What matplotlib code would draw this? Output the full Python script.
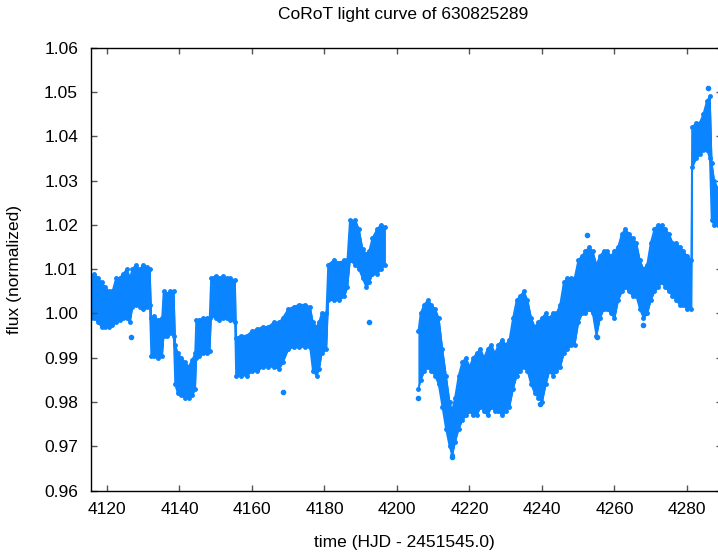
import matplotlib
matplotlib.use("Agg")
import matplotlib.pyplot as plt

plt.rcParams['font.family'] = ['Liberation Sans', 'DejaVu Sans']

t1 = [4115.5, 4116.5, 4117.5, 4118.5, 4119.5, 4120.5, 4121.5, 4122.5, 4123.5, 4124.5,
      4125.5, 4126.3, 4127.0, 4128.0, 4129.0, 4130.0, 4131.0, 4131.8, 4132.2, 4133.0,
      4134.0, 4135.2, 4135.6, 4136.5, 4137.5, 4138.4, 4138.8, 4139.5, 4140.5, 4141.5,
      4142.5, 4143.5, 4144.3, 4144.6, 4145.5, 4146.5, 4147.5, 4148.3, 4148.7, 4150.0,
      4151.0, 4152.0, 4153.0, 4154.0, 4155.3, 4155.6, 4157.0, 4158.5, 4160.0, 4161.5,
      4163.0, 4164.5, 4166.0, 4167.5, 4168.5, 4170.0, 4171.5, 4173.0, 4174.5, 4176.0,
      4176.8, 4177.8, 4178.5, 4179.2, 4180.5, 4181.0, 4182.5, 4184.0, 4185.5, 4186.3,
      4187.0, 4188.5, 4189.5, 4190.5, 4191.5, 4192.3, 4193.2, 4194.5, 4195.5, 4196.7]
lo1 = [0.999, 0.999, 0.998, 0.997, 0.997, 0.997, 0.9975, 0.998, 0.9985, 0.999,
       0.999, 0.998, 1.0015, 1.002, 1.0015, 1.001, 1.0015, 1.002, 0.9905, 0.9905,
       0.990, 0.9905, 0.995, 0.995, 0.9955, 0.995, 0.984, 0.982, 0.9815, 0.981,
       0.981, 0.9815, 0.983, 0.990, 0.9905, 0.991, 0.991, 0.9915, 0.9995, 0.999,
       0.9985, 0.999, 0.999, 0.9985, 0.998, 0.986, 0.986, 0.986, 0.987, 0.987,
       0.988, 0.988, 0.988, 0.9875, 0.989, 0.992, 0.9925, 0.9925, 0.9925, 0.9925,
       0.987, 0.986, 0.9875, 0.991, 0.992, 1.003, 1.003, 1.003, 1.004, 1.006,
       1.012, 1.011, 1.010, 1.008, 1.006, 1.007, 1.009, 1.009, 1.010, 1.011]
hi1 = [1.008, 1.009, 1.008, 1.007, 1.006, 1.005, 1.005, 1.008, 1.008, 1.009,
       1.010, 1.008, 1.010, 1.011, 1.010, 1.011, 1.0105, 1.010, 0.999, 0.9995,
       0.9985, 0.999, 1.005, 1.0045, 1.005, 1.005, 0.993, 0.991, 0.990, 0.989,
       0.988, 0.9895, 0.991, 0.9985, 0.9985, 0.999, 0.999, 0.999, 1.008, 1.0085,
       1.008, 1.0085, 1.008, 1.008, 1.0075, 0.9945, 0.995, 0.995, 0.996, 0.9965,
       0.997, 0.997, 0.998, 0.998, 0.999, 1.001, 1.0015, 1.002, 1.002, 1.0015,
       0.998, 0.997, 0.998, 1.000, 1.000, 1.011, 1.012, 1.0115, 1.012, 1.012,
       1.021, 1.021, 1.019, 1.0145, 1.0135, 1.014, 1.017, 1.019, 1.020, 1.0195]

t2 = [4205.9, 4206.5, 4207.5, 4208.5, 4209.5, 4210.5, 4211.5, 4212.5, 4213.5, 4214.5,
      4215.2, 4216.0, 4217.0, 4218.0, 4219.0, 4220.0, 4221.0, 4222.0, 4223.0, 4224.0,
      4225.0, 4226.0, 4227.0, 4228.0, 4229.0, 4230.0, 4231.0, 4232.0, 4233.0, 4234.0,
      4235.0, 4236.0, 4237.0, 4238.0, 4239.0, 4240.0, 4241.0, 4242.0, 4243.0, 4244.0,
      4245.0, 4246.0, 4247.0, 4248.0, 4249.0, 4250.0, 4251.0, 4252.0, 4253.0, 4254.0,
      4255.0, 4256.0, 4257.0, 4258.0, 4259.0, 4260.0, 4261.0, 4262.0, 4263.0, 4264.0,
      4265.0, 4266.0, 4267.0, 4268.0, 4269.0, 4270.0, 4271.0, 4272.0, 4273.0, 4274.0,
      4275.0, 4276.0, 4277.0, 4278.0, 4279.0, 4280.0, 4281.2, 4281.4, 4282.5, 4283.5,
      4284.5, 4285.5, 4286.3, 4286.8, 4287.5, 4288.6]
lo2 = [0.983, 0.985, 0.987, 0.988, 0.987, 0.986, 0.984, 0.979, 0.974, 0.970,
       0.968, 0.971, 0.974, 0.976, 0.977, 0.978, 0.977, 0.977, 0.979, 0.978,
       0.977, 0.979, 0.978, 0.978, 0.977, 0.978, 0.979, 0.983, 0.986, 0.987,
       0.988, 0.987, 0.984, 0.982, 0.981, 0.980, 0.984, 0.987, 0.986, 0.987,
       0.988, 0.991, 0.992, 0.993, 0.993, 0.998, 1.000, 1.000, 1.001, 1.000,
       0.995, 0.999, 1.001, 1.001, 1.000, 0.999, 1.003, 1.005, 1.006, 1.005,
       1.004, 1.004, 1.001, 0.999, 1.000, 1.003, 1.005, 1.006, 1.007, 1.006,
       1.005, 1.004, 1.003, 1.002, 1.002, 1.001, 1.001, 1.033, 1.035, 1.036,
       1.037, 1.037, 1.035, 1.021, 1.020, 1.020]
hi2 = [0.996, 1.000, 1.002, 1.003, 1.002, 1.001, 0.999, 0.992, 0.986, 0.980,
       0.978, 0.981, 0.986, 0.989, 0.990, 0.988, 0.990, 0.991, 0.992, 0.990,
       0.992, 0.993, 0.991, 0.993, 0.994, 0.993, 0.994, 0.999, 1.003, 1.004,
       1.005, 1.003, 0.999, 0.997, 0.998, 0.999, 1.000, 0.999, 1.000, 1.000,
       1.002, 1.007, 1.008, 1.008, 1.008, 1.012, 1.013, 1.014, 1.015, 1.014,
       1.011, 1.013, 1.014, 1.014, 1.013, 1.014, 1.015, 1.018, 1.019, 1.018,
       1.017, 1.016, 1.012, 1.010, 1.011, 1.016, 1.019, 1.020, 1.020, 1.019,
       1.018, 1.016, 1.016, 1.015, 1.014, 1.013, 1.012, 1.042, 1.043, 1.043,
       1.045, 1.048, 1.049, 1.034, 1.030, 1.028]

# isolated points sticking out of the band
out_t = [4126.5, 4168.6, 4192.2, 4205.9, 4215.3, 4239.5, 4252.3, 4255.2, 4268.0, 4285.9]
out_f = [0.9948, 0.9822, 0.9980, 0.9810, 0.9675, 0.9795, 1.0177, 0.9948, 0.9975, 1.0508]

color = '#0a84ff'

fig = plt.figure(figsize=(7.18, 5.52), dpi=100)
ax = fig.add_axes([90.5 / 718, 61.3 / 552, 631.5 / 718, 443 / 552])

for t, lo, hi in [(t1, lo1, hi1), (t2, lo2, hi2)]:
    ax.fill_between(t, lo, hi, facecolor=color, edgecolor=color, lw=0.6)
    ax.plot(t, lo, color=color, lw=1.2, marker='o', ms=2.5)
    ax.plot(t, hi, color=color, lw=1.2, marker='o', ms=2.5)
ax.plot(out_t, out_f, 'o', color=color, ms=3, ls='none')

ax.set_xlim(4115.45, 4289.66)
ax.set_ylim(0.96, 1.06)
ax.set_xticks(range(4120, 4281, 20))
ax.set_yticks([0.96, 0.97, 0.98, 0.99, 1.00, 1.01, 1.02, 1.03, 1.04, 1.05, 1.06])
ax.yaxis.set_major_formatter(plt.FormatStrFormatter('%.2f'))
ax.tick_params(direction='in', length=4.5, width=1, color='#555555',
               top=True, right=True, labelsize=12.5, pad=9)
ax.tick_params(axis='x', pad=8)
for s in ax.spines.values():
    s.set_linewidth(1)

fig.text(403 / 718, 1 - 15 / 552, 'CoRoT light curve of 630825289',
         ha='center', va='center', fontsize=12.5)
fig.text(404 / 718, 1 - 543 / 552, 'time (HJD - 2451545.0)',
         ha='center', va='center', fontsize=12.5)
fig.text(15 / 718, 1 - 270 / 552, 'flux (normalized)', rotation=90,
         ha='center', va='center', fontsize=12.5)

fig.savefig('out.png', dpi=100)
